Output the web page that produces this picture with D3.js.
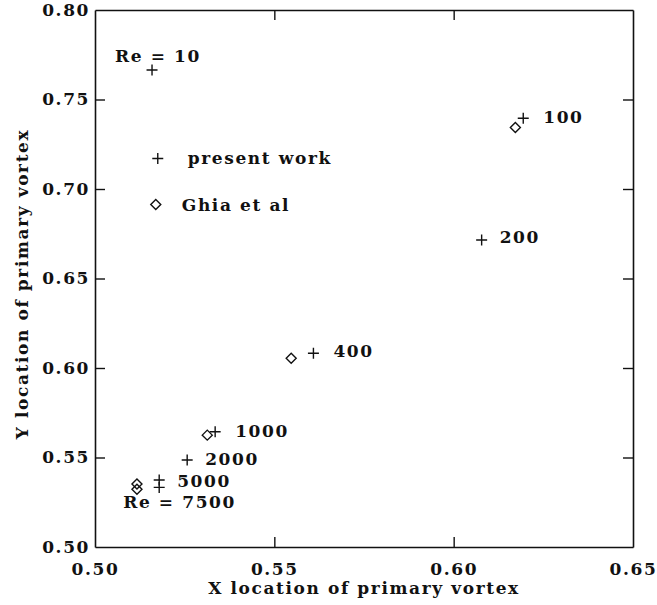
<!DOCTYPE html>
<html>
<head>
<meta charset="utf-8">
<script src="https://cdn.jsdelivr.net/npm/d3@7"></script>
<style>
  body { margin: 0; background: #fff; }
  svg text { font-family: "DejaVu Serif", serif; font-weight: bold; fill: #111; }
</style>
</head>
<body>
<div id="chart"></div>
<script>
// present work: Reynolds numbers and primary vortex centre
const presentRe = [10, 100, 200, 400, 1000, 2000, 5000, 7500];
const presentX = [0.5159, 0.6194, 0.6078, 0.5609, 0.5335, 0.5257, 0.5179, 0.5179];
const presentY = [0.7665, 0.7395, 0.6715, 0.6082, 0.5644, 0.5486, 0.5374, 0.5333];

// Ghia et al
const ghiaRe = [100, 400, 1000, 5000, 7500];
const ghiaX = [0.6172, 0.5547, 0.5313, 0.5117, 0.5117];
const ghiaY = [0.7344, 0.6055, 0.5625, 0.5352, 0.5322];

const xTicks = [0.50, 0.55, 0.60, 0.65];
const yTicks = [0.50, 0.55, 0.60, 0.65, 0.70, 0.75, 0.80];
const reLabels = ["Re = 10", "100", "200", "400", "1000", "2000", "5000", "Re = 7500"];

let margin = {top: 10, right: 24, bottom: 58, left: 95},
  width = 657 - margin.left - margin.right,
  height = 605 - margin.top - margin.bottom;

const fs = 17, ls = "1.6px";

var svg = d3.select("#chart")
  .append("svg")
    .attr("width", 657)
    .attr("height", 605);

var g = svg.append("g")
    .attr("transform", "translate(" + margin.left + "," + margin.top + ")");

const x = d3.scaleLinear().domain([0.5, 0.65]).range([0, width]);
const y = d3.scaleLinear().domain([0.5, 0.8]).range([height, 0]);

const fmt = d3.format(".2f");

// axes, ticks pointing inward on all four sides
function styleAxis(sel) {
  sel.select(".domain").attr("stroke", "#111").attr("stroke-width", 1.6);
  sel.selectAll(".tick line").attr("stroke", "#111").attr("stroke-width", 1.4);
  sel.selectAll("text").attr("font-size", fs).style("letter-spacing", ls);
}

g.append("g")
  .attr("transform", "translate(0," + height + ")")
  .call(d3.axisBottom(x).tickValues(xTicks).tickFormat(fmt).tickSize(-10).tickSizeOuter(0).tickPadding(16))
  .call(styleAxis)
  .call(a => a.selectAll(".tick").filter(d => d === 0.5 || d === 0.65).select("line").remove());

g.append("g")
  .call(d3.axisLeft(y).tickValues(yTicks).tickFormat(fmt).tickSize(-10).tickSizeOuter(0).tickPadding(5))
  .call(styleAxis)
  .call(a => a.selectAll(".tick").filter(d => d === 0.5 || d === 0.8).select("line").remove());

g.append("g")
  .call(d3.axisTop(x).tickValues(xTicks.slice(1, 3)).tickFormat("").tickSize(-10).tickSizeOuter(0))
  .call(styleAxis);

g.append("g")
  .attr("transform", "translate(" + width + ",0)")
  .call(d3.axisRight(y).tickValues(yTicks.slice(1, 6)).tickFormat("").tickSize(-10).tickSizeOuter(0))
  .call(styleAxis);

// axis titles
svg.append("text")
  .attr("x", margin.left + width / 2)
  .attr("y", 594)
  .attr("text-anchor", "middle")
  .attr("font-size", fs)
  .style("letter-spacing", ls)
  .text("X location of primary vortex");

svg.append("text")
  .attr("transform", "translate(28,284) rotate(-90)")
  .attr("text-anchor", "middle")
  .attr("font-size", fs)
  .style("letter-spacing", ls)
  .text("Y location of primary vortex");

// markers
const plusPath = (cx, cy, r) => "M" + (cx - r) + "," + cy + "H" + (cx + r) + "M" + cx + "," + (cy - r) + "V" + (cy + r);
const diamondPath = (cx, cy, r) => "M" + cx + "," + (cy - r) + "L" + (cx + r) + "," + cy + "L" + cx + "," + (cy + r) + "L" + (cx - r) + "," + cy + "Z";

g.selectAll(".ghia")
  .data(ghiaRe)
  .enter()
  .append("path")
    .attr("class", "ghia")
    .attr("d", (d, i) => diamondPath(x(ghiaX[i]), y(ghiaY[i]), 5))
    .attr("fill", "none")
    .attr("stroke", "#111")
    .attr("stroke-width", 1.4);

g.selectAll(".present")
  .data(presentRe)
  .enter()
  .append("path")
    .attr("class", "present")
    .attr("d", (d, i) => plusPath(x(presentX[i]), y(presentY[i]), 5.5))
    .attr("fill", "none")
    .attr("stroke", "#111")
    .attr("stroke-width", 1.4);

// Reynolds number labels, offset from the present-work points
const labelOffsets = [[-37, -8], [20, 5], [18, 3], [20, 4], [20, 5], [18, 5], [18, 7], [-36, 21]];

g.selectAll(".relabel")
  .data(reLabels)
  .enter()
  .append("text")
    .attr("class", "relabel")
    .attr("x", (d, i) => x(presentX[i]) + labelOffsets[i][0])
    .attr("y", (d, i) => y(presentY[i]) + labelOffsets[i][1])
    .attr("font-size", fs)
    .style("letter-spacing", ls)
    .text(d => d);

// legend
const legend = g.append("g").attr("transform", "translate(" + x(0.5175) + "," + y(0.717) + ")");
legend.append("path").attr("d", plusPath(0, 0, 5.5)).attr("stroke", "#111").attr("stroke-width", 1.4);
legend.append("text").attr("x", 30).attr("y", 5).attr("font-size", fs).style("letter-spacing", ls).text("present work");
legend.append("path").attr("d", diamondPath(-2, 46, 5)).attr("fill", "none").attr("stroke", "#111").attr("stroke-width", 1.4);
legend.append("text").attr("x", 24).attr("y", 52).attr("font-size", fs).style("letter-spacing", ls).text("Ghia et al");
</script>
</body>
</html>
